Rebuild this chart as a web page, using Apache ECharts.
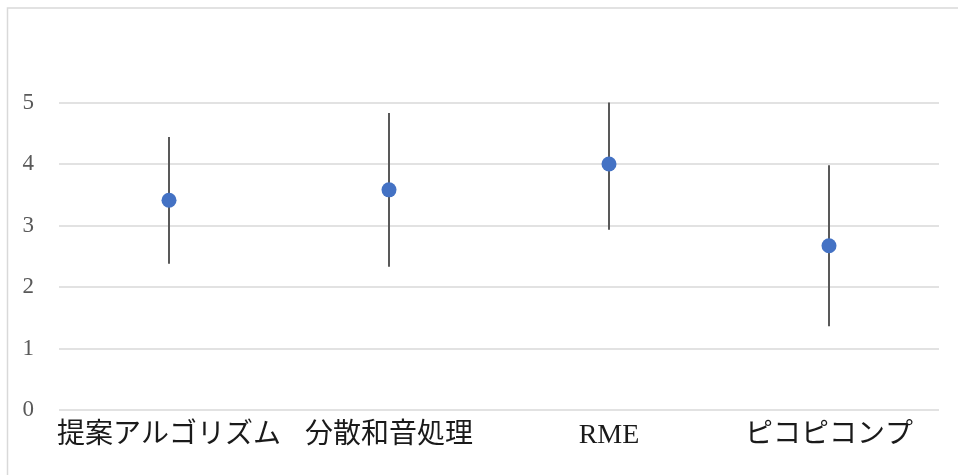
<!DOCTYPE html>
<html>
<head>
<meta charset="utf-8">
<script src="https://cdn.jsdelivr.net/npm/echarts@6/dist/echarts.min.js"></script>
<style>html,body{margin:0;padding:0;background:#fff;}#chart{width:958px;height:475px;}</style>
</head>
<body>
<div id="chart"></div>
<script>
const categories = ['提案アルゴリズム', '分散和音処理', 'RME', 'ピコピコンプ'];
const means = [3.41, 3.58, 4.0, 2.67];
const errors = [1.03, 1.25, 1.07, 1.31];
const yTicks = [0, 1, 2, 3, 4, 5];

const errData = categories.map((c, i) => [i, means[i] - errors[i], means[i] + errors[i]]);

const chart = echarts.init(document.getElementById('chart'));
chart.setOption({
  animation: false,
  backgroundColor: '#fff',
  graphic: [{
    type: 'rect',
    shape: { x: 7.5, y: 8, width: 1000, height: 500 },
    style: { fill: 'none', stroke: '#d9d9d9', lineWidth: 1.5 },
    silent: true
  }],
  grid: { left: 59, right: 19, top: 102.5, bottom: 65 },
  xAxis: {
    type: 'category',
    data: categories,
    axisLine: { show: false },
    axisTick: { show: false },
    axisLabel: {
      margin: 12,
      fontSize: 28,
      color: '#1a1a1a',
      fontFamily: '"Liberation Serif", "Noto Sans CJK JP", serif',
      interval: 0
    }
  },
  yAxis: {
    type: 'value',
    min: yTicks[0],
    max: yTicks[yTicks.length - 1],
    interval: 1,
    axisLine: { show: false },
    axisTick: { show: false },
    axisLabel: {
      margin: 25,
      fontSize: 23,
      color: '#595959',
      fontFamily: '"Liberation Serif", serif'
    },
    splitLine: { lineStyle: { color: '#d9d9d9', width: 1.5 } }
  },
  series: [
    {
      type: 'custom',
      clip: true,
      data: errData,
      renderItem: function (params, api) {
        const x = api.value(0);
        const lo = api.coord([x, api.value(1)]);
        const hi = api.coord([x, api.value(2)]);
        return {
          type: 'line',
          shape: { x1: lo[0], y1: lo[1], x2: hi[0], y2: hi[1] },
          style: { stroke: '#595959', lineWidth: 2 }
        };
      },
      z: 2
    },
    {
      type: 'scatter',
      data: means,
      symbol: 'circle',
      symbolSize: 15,
      itemStyle: { color: '#4472C4', opacity: 1 },
      z: 3
    }
  ]
});
</script>
</body>
</html>
